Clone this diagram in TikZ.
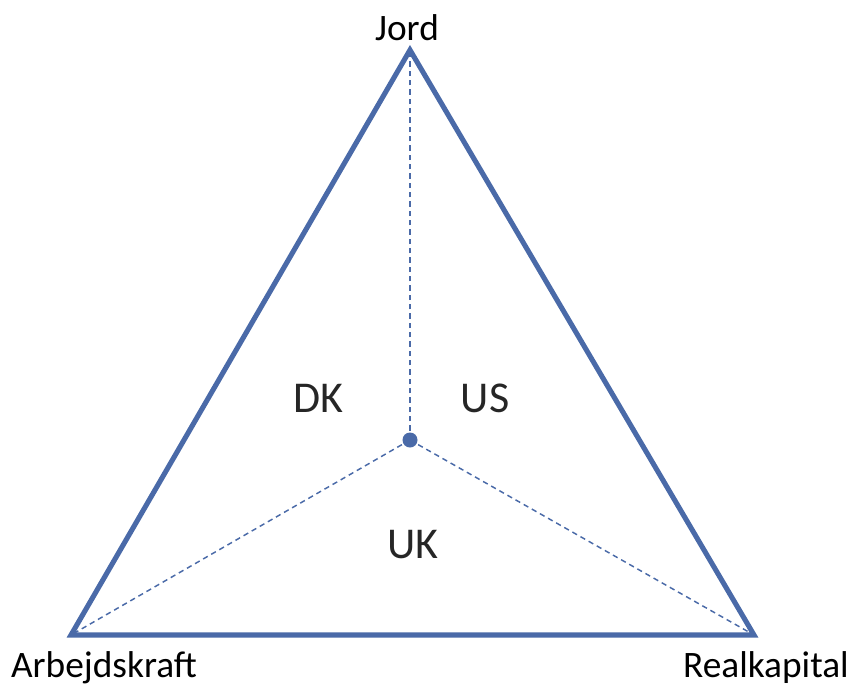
\documentclass[tikz,border=0pt]{standalone}
\usepackage{fontspec}
\setmainfont{Carlito}
\definecolor{tri}{HTML}{4A6AA8}
\begin{document}
\begin{tikzpicture}[x=0.75pt,y=-0.75pt,
  side/.style={draw=tri,line width=3.8pt,line join=miter},
  guide/.style={draw=tri,line width=1.1pt,dash pattern=on 4pt off 3pt},
  lbl/.style={font=\fontsize{28}{32}\selectfont,text=black,inner sep=0pt},
  region/.style={font=\fontsize{33}{37}\selectfont,text=black!85,inner sep=0pt}]
\useasboundingbox (0,0) rectangle (851,686);
\coordinate (J) at (410,50);
\coordinate (A) at (71,635);
\coordinate (R) at (754,635);
\coordinate (C) at (410,440);
\draw[guide] (C) -- (J);
\draw[guide] (C) -- (A);
\draw[guide] (C) -- (R);
\draw[side] (J) -- (A) -- (R) -- cycle;
\fill[tri] (C) circle (7.5);
\node[lbl] (jord) at (407,28) {Jord};
\node[lbl] (arb) at (104,668) {Arbejdskraft};
\node[lbl] (real) at (766,668) {Realkapital};
\node[region] (dk) at (318,398) {DK};
\node[region] (us) at (485,398) {US};
\node[region] (uk) at (413,545) {UK};
\end{tikzpicture}
\end{document}
